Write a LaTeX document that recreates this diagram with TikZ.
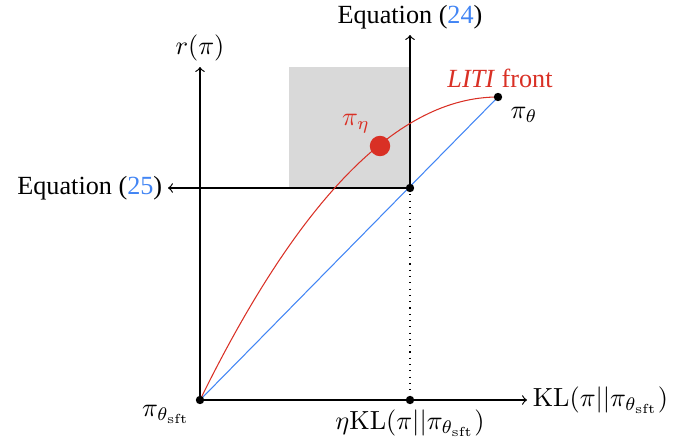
\documentclass[tikz,border=0pt]{standalone}
\usepackage[no-math]{fontspec}
\setmainfont{Liberation Serif}
\usetikzlibrary{calc}
\definecolor{litired}{RGB}{217,48,37}
\definecolor{liteblue}{RGB}{66,133,244}
\begin{document}
\begin{tikzpicture}[x=0.3817pt,y=-0.3817pt,
  axis/.style={draw=black,line width=0.45pt},
  blackdot/.style={circle,fill=black,inner sep=0pt,minimum size=3.2pt},
  reddot/.style={circle,fill=litired,inner sep=0pt,minimum size=7.8pt},
  lbl/.style={inner sep=2pt}]
\useasboundingbox (0,0) rectangle (676,440);
% points
\coordinate (O) at (200,400);
\coordinate (P) at (410,188);
\coordinate (Q) at (410,400);
\coordinate (T) at (498,97);
\coordinate (C) at (349,97);
\coordinate (ytop) at (200,67);
\coordinate (xend) at (527,400);
\coordinate (vtop) at (410,35);
\coordinate (hend) at (168,188);
% gray box
\fill[gray!30] (289,67) rectangle (P);
% axes
\draw[axis,->] (O) -- (ytop) node[above,lbl] (rlab) {$r(\pi)$};
\draw[axis,->] (O) -- (xend) node[right,lbl] (kllab) {$\mathrm{KL}(\pi||\pi_{\theta_{\mathrm{sft}}})$};
\draw[axis,->] (P) -- (vtop) node[above,lbl] (eq24) {Equation (\textcolor{liteblue}{24})};
\draw[axis,->] (P) -- (hend) node[left,lbl] (eq25) {Equation (\textcolor{liteblue}{25})};
\draw[dotted] (P) -- (Q);
% lines
\draw[liteblue] (O) -- (T);
\draw[litired] (O) .. controls ($(O)!0.6667!(C)$) and ($(T)!0.6667!(C)$) .. (T);
% dots
\node[blackdot] (dO) at (O) {};
\node[blackdot] (dP) at (P) {};
\node[blackdot] (dQ) at (Q) {};
\node[blackdot] (dT) at (T) {};
\node[reddot] (eta) at (380,146) {};
% labels
\node (lO) at (166,414) {$\pi_{\theta_{\mathrm{sft}}}$};
\node (lT) at (524,115) {$\pi_{\theta}$};
\node (lQ) at (410,423) {$\eta\mathrm{KL}(\pi||\pi_{\theta_{\mathrm{sft}}})$};
\node[text=litired] (leta) at (356,124) {$\pi_{\eta}$};
\node[text=litired] (front) at (500,78) {\textit{LITI} front};
\end{tikzpicture}
\end{document}
